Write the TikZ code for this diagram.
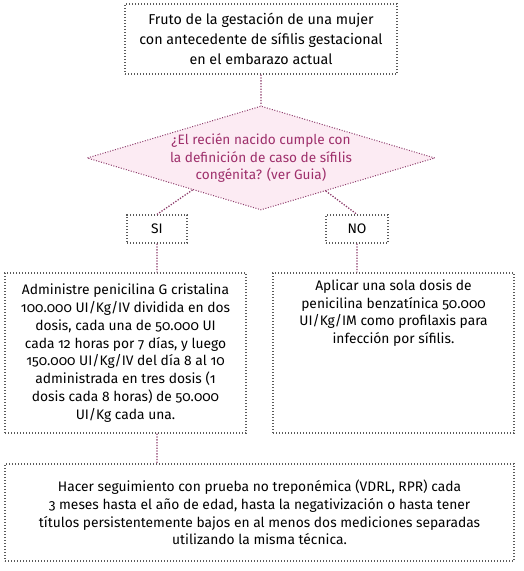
\documentclass[tikz,border=0pt]{standalone}
\usepackage{fontspec}
\setmainfont{Fira Sans}[Numbers=OldStyle]
\usetikzlibrary{positioning,shapes.geometric,calc}
\definecolor{borde}{HTML}{5A5A5A}
\definecolor{mauve}{HTML}{8E3D6C}
\definecolor{rosa}{HTML}{FCEBF3}
\definecolor{preguntatxt}{HTML}{9E2F6B}
\tikzset{
  caja/.style={draw=borde, line width=1.2pt, dash pattern=on 1.2pt off 1.8pt,
    align=center, inner sep=0pt, font=\fontsize{13.8}{17.8}\selectfont},
  decision/.style={diamond, draw=mauve, fill=rosa, line width=1pt,
    dash pattern=on 1pt off 1.6pt, aspect=3.35, inner sep=0pt,
    align=center, text=preguntatxt, font=\fontsize{13.6}{17.8}\selectfont},
  texto/.style={align=center, inner sep=0pt, font=\fontsize{13.8}{17.8}\selectfont},
  flecha/.style={draw=mauve, line width=1.3pt, dash pattern=on 1.3pt off 1.5pt}
}
\begin{document}
\begin{tikzpicture}[x=1pt,y=-1pt]
  \useasboundingbox (0,0) rectangle (523,571);

  \node[caja, minimum width=272pt, minimum height=70pt,
        font=\fontsize{14.3}{20}\selectfont] (fruto) at (261,39)
    {Fruto de la gestación de una mujer\\
     con antecedente de sífilis gestacional\\en el embarazo actual};
  \node[decision, minimum width=348pt, minimum height=104pt] (pregunta) at (261,158)
    {¿El recién nacido cumple con\\la definición de caso de sífilis\\congénita? (ver Guia)};

  \node[caja, minimum width=60pt, minimum height=28pt] (si) at (157,229) {SI};
  \node[caja, minimum width=62pt, minimum height=28pt] (no) at (357,229) {NO};

  \node[caja, minimum width=241pt, minimum height=160pt] (penicilina) at (125.5,353)
    {Administre penicilina G cristalina\\100.000 UI/Kg/IV dividida en dos\\
     dosis, cada una de 50.000 UI\\cada 12 horas por 7 días, y luego\\
     150.000 UI/Kg/IV del día 8 al 10\\administrada en tres dosis (1\\
     dosis cada 8 horas) de 50.000\\UI/Kg cada una.};
  \node[caja, minimum width=241pt, minimum height=160pt] (profilaxis) at (393.5,353) {};
  \node[texto, below=7pt of profilaxis.north] (profilaxistxt)
    {Aplicar una sola dosis de\\penicilina benzatínica 50.000\\
     UI/Kg/IM como profilaxis para\\infección por sífilis.};

  \node[caja, minimum width=509pt, minimum height=97pt] (seguimiento) at (259.5,512.5)
    {Hacer seguimiento con prueba no treponémica (VDRL, RPR) cada\\
     3 meses hasta el año de edad, hasta la negativización o hasta tener\\
     títulos persistentemente bajos en al menos dos mediciones separadas\\
     utilizando la misma técnica.};

  \path[flecha] (fruto.south) -- (pregunta.north)
                (pregunta.205) -- (si.north)
                (pregunta.333) -- (no.north)
                (si.south) -- (si.south |- penicilina.north)
                (no.south) -- (no.south |- profilaxis.north)
                (penicilina.south -| si.south) -- (seguimiento.north -| si.south);
\end{tikzpicture}
\end{document}
